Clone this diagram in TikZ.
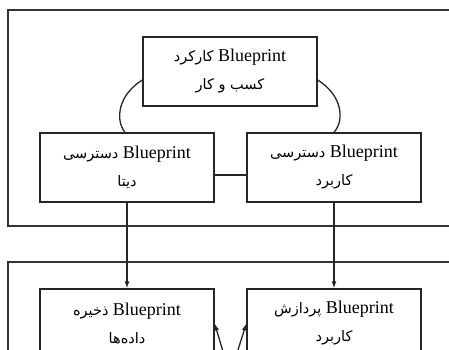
\documentclass[tikz,border=0pt]{standalone}
\usepackage{fontspec}
\setmainfont{Liberation Serif}
\newfontfamily\fafont[Script=Arabic]{DejaVu Sans}
\TeXXeTstate=1
\usetikzlibrary{arrows.meta,calc}
\newcommand{\fatext}[1]{{\fafont\fontsize{14.5}{28}\selectfont\beginR #1\endR}}
\newcommand{\bpbox}[2]{\fatext{#1}\ Blueprint\\\fatext{#2}}
\begin{document}
\begin{tikzpicture}[x=1pt,y=-1pt,
  box/.style={draw=black!85,line width=1.3pt,minimum width=174pt,minimum height=69pt,inner sep=0pt,align=center,font=\fontsize{18}{28}\selectfont,fill=white},
  frame/.style={draw=black!80,line width=1.6pt},
  conn/.style={draw=black!85,line width=1.3pt},
  arr/.style={conn,-{Latex[length=7pt,width=5pt]}}]
\useasboundingbox (0,0) rectangle (449,349);
\clip (0,0) rectangle (449,349);
\fill[white] (0,0) rectangle (449,349);
\draw[frame] (8,10) rectangle (470,226);
\draw[frame] (8,262) rectangle (470,420);
\node[box] (biz) at (230,71.5) {\bpbox{کارکرد}{کسب و کار}};
\node[box] (dacc) at (127,167.5) {\bpbox{دسترسی}{دیتا}};
\node[box] (aacc) at (334,167.5) {\bpbox{دسترسی}{کاربرد}};
\node[box] (dsto) at (127,323.5) {\bpbox{ذخیره}{داده‌ها}};
\node[box] (aproc) at (334,323.5) {\bpbox{پردازش}{کاربرد}};
\draw[conn] ([yshift=-8.5pt]biz.west) .. controls (118,95) and (115,120) .. ([xshift=-2pt]dacc.north);
\draw[conn] ([yshift=-8.5pt]biz.east) .. controls (342,95) and (345,120) .. (aacc.north);
\draw[conn] ([yshift=-7.5pt]dacc.east) -- ([yshift=-7.5pt]aacc.west);
\draw[arr] (dacc.south) -- (dsto.north);
\draw[arr] (aacc.south) -- (aproc.north);
\coordinate (src) at (230,375);
\draw[arr] (src) -- (dsto.east);
\draw[arr] (src) -- (aproc.west);
\end{tikzpicture}
\end{document}
